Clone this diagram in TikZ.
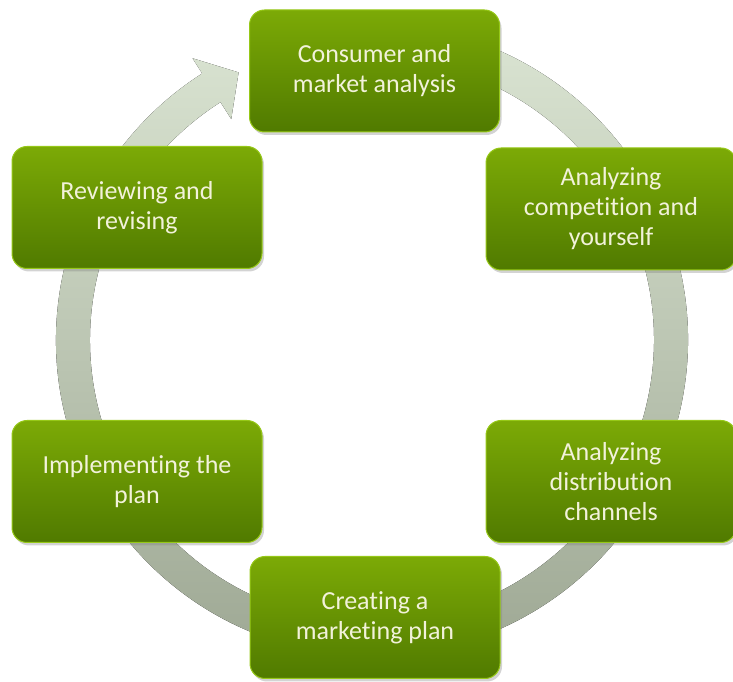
\documentclass[tikz,border=0pt]{standalone}
\usepackage{fontspec}
\setmainfont[Ligatures=NoCommon]{Carlito}
\usetikzlibrary{shadows}
\definecolor{boxtop}{RGB}{124,170,6}
\definecolor{boxbot}{RGB}{80,122,0}
\definecolor{boxedge}{RGB}{150,200,24}
\definecolor{ringtop}{RGB}{218,228,210}
\definecolor{ringbot}{RGB}{156,166,146}
\definecolor{txtcol}{RGB}{242,242,218}
\begin{document}
\begin{tikzpicture}[x=1pt,y=1pt,
		stage/.style={rectangle,rounded corners=15pt,minimum width=250pt,minimum height=122pt,
			top color=boxtop,bottom color=boxbot,draw=boxedge,line width=1pt,
			drop shadow={opacity=0.35,shadow xshift=2pt,shadow yshift=-3pt},
			text=txtcol,align=center,font=\fontsize{26pt}{30pt}\selectfont}]
		\useasboundingbox (0,0) rectangle (733,682);
		% cycle arrow
		\fill[top color=ringtop,bottom color=ringbot,shift={(372,342)}]
			(80:316) arc[start angle=80,end angle=-237.5,radius=316]
			-- (-237.5:334) -- (-243.5:299) -- (-237.5:262) -- (-237.5:282)
			arc[start angle=-237.5,end angle=80,radius=282] -- cycle;
		% steps
		\node[stage] (consumer) at (374.5,611) {Consumer and\\market analysis};
		\node[stage] (competition) at (611,473) {Analyzing\\competition and\\yourself};
		\node[stage] (distribution) at (611,200.5) {Analyzing\\distribution\\channels};
		\node[stage] (planning) at (375,64.5) {Creating a\\marketing plan};
		\node[stage] (implement) at (137,200.5) {Implementing the\\plan};
		\node[stage] (review) at (137,474.5) {Reviewing and\\revising};
\end{tikzpicture}
\end{document}
